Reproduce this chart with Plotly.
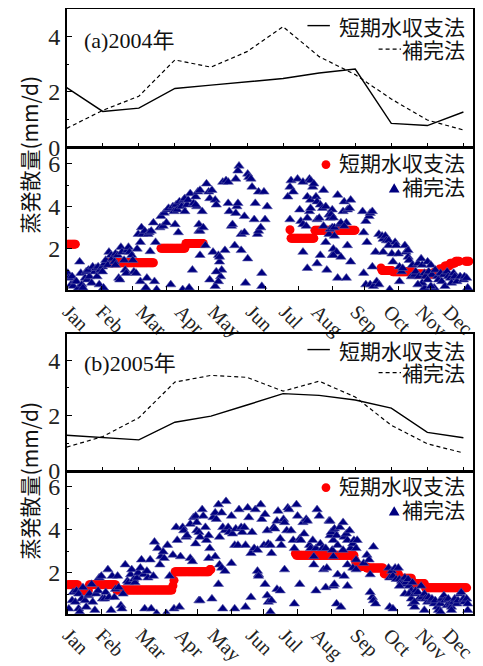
import plotly.graph_objects as go

# ---------------- data ----------------
month_labels = ["Jan", "Feb", "Mar", "Apr", "May", "Jun", "Jul", "Aug", "Sep", "Oct", "Nov", "Dec"]
month_index = [1, 2, 3, 4, 5, 6, 7, 8, 9, 10, 11, 12]

# monthly mean evapotranspiration (mm/d)
wb_2004 = [2.15, 1.29, 1.41, 2.12, 2.24, 2.35, 2.48, 2.68, 2.82, 0.86, 0.78, 1.27]
cp_2004 = [0.68, 1.33, 1.84, 3.15, 2.89, 3.45, 4.35, 3.27, 2.62, 1.74, 0.98, 0.62]
wb_2005 = [1.29, 1.21, 1.12, 1.76, 1.98, 2.38, 2.79, 2.73, 2.56, 2.27, 1.39, 1.20]
cp_2005 = [0.86, 1.24, 1.92, 3.21, 3.45, 3.38, 2.88, 3.24, 2.67, 1.65, 0.98, 0.65]

# month start day-of-year
month_start_2004 = [1, 32, 61, 92, 122, 153, 183, 214, 245, 275, 306, 336, 367]
month_start_2005 = [1, 32, 60, 91, 121, 152, 182, 213, 244, 274, 305, 335, 366]

# daily water-balance values: runs of (first day, last day, value)
wb_daily_2004_runs = [(1, 8, 2.22), (38, 80, 1.35), (87, 109, 2.03), (110, 126, 2.25),
                      (206, 206, 2.9), (207, 228, 2.5), (229, 266, 2.87),
                      (290, 290, 1.1), (291, 300, 0.98), (301, 320, 0.92), (321, 338, 0.82),
                      (339, 343, 0.9), (344, 348, 1.05), (349, 353, 1.2), (354, 358, 1.33),
                      (359, 362, 1.42), (368, 371, 1.42)]
wb_daily_2005_runs = [(1, 10, 1.45), (11, 20, 1.18), (21, 45, 1.45), (46, 97, 1.2),
                      (98, 98, 1.4), (99, 99, 1.65), (100, 131, 2.05), (132, 133, 2.15),
                      (211, 211, 2.9), (212, 265, 2.82), (266, 266, 2.6), (267, 267, 2.45),
                      (268, 276, 2.3), (277, 292, 2.22), (293, 306, 1.95), (307, 318, 1.75),
                      (319, 330, 1.5), (331, 369, 1.3)]

# daily complementary-method values (day, mm/d)
cp_daily_2004 = [
    (1,0.86),(2,0.63),(5,0.7),(4,0.32),(6,0.25),(8,0.47),(9,0.47),(11,0.17),(12,1.39),(13,0.86),
    (14,0.32),(15,0.17),(17,0.63),(18,0.93),(19,0.55),(20,1.01),(21,0.7),(23,0.4),(24,1.16),(26,0.93),
    (27,1.09),(28,0.7),(29,1.16),(30,0.32),(31,1.01),(33,1.16),(33,0.93),(34,0.17),(35,1.31),(36,1.47),
    (38,1.24),(39,1.85),(41,1.7),(42,1.54),(44,1.39),(45,1.77),(45,1.24),(47,1.7),(48,0.63),(49,0.55),
    (50,2.08),(51,1.85),(53,1.47),(54,1.01),(55,0.86),(56,1.93),(57,2.08),(58,1.85),(60,1.7),(61,1.47),
    (62,0.93),(64,0.86),(65,2.0),(66,2.69),(68,0.47),(68,2.31),(69,3.0),(70,2.69),(72,2.84),(73,0.17),
    (74,0.63),(75,2.69),(76,2.77),(77,1.88),(78,2.84),(80,3.23),(81,0.47),(82,2.31),(83,0.09),(86,3.0),
    (87,3.53),(89,3.07),(90,3.69),(92,3.23),(93,3.84),(94,3.91),(96,0.32),(98,3.99),(99,3.76),(100,3.15),
    (101,4.07),(102,3.84),(103,2.77),(104,4.22),(106,3.99),(107,0.09),(108,4.3),(109,4.37),(109,3.76),(111,4.07),
    (112,4.3),(113,0.17),(114,4.6),(116,1.01),(117,4.14),(119,4.45),(120,3.99),(121,4.68),(122,2.84),(123,1.7),
    (123,4.76),(119,4.07),(122,3.15),(125,3.76),(123,2.84),(126,3.0),(128,2.16),(129,5.06),(131,4.68),(132,4.37),
    (134,4.76),(135,1.85),(137,4.3),(138,4.07),(140,1.7),(141,1.39),(143,1.01),(142,0.7),(144,5.14),(146,1.93),
    (147,5.21),(149,5.14),(149,4.14),(150,3.76),(152,3.07),(153,3.15),(155,2.16),(156,5.29),(157,3.99),(156,3.68),
    (158,4.14),(159,5.9),(158,5.67),(161,1.93),(161,2.69),(164,2.77),(164,3.53),(165,0.4),(167,5.52),(168,5.37),
    (170,5.29),(171,4.91),(173,3.38),(174,4.14),(176,2.69),(177,4.68),(177,2.84),(179,3.0),(180,0.86),(182,4.68),
    (183,3.38),(185,3.99),(180,0.24),(132,0.55),(137,0.24),(140,0.47),(138,0.93),(141,1.62),(167,1.54),
    (204,4.45),(206,4.91),(207,5.21),(209,4.68),(213,5.29),(218,5.14),(224,5.29),(225,5.21),(227,4.91),(228,5.06),
    (222,4.45),(225,4.3),(230,4.45),(231,4.22),(234,4.07),(236,3.91),(237,4.76),(239,3.99),(242,3.6),(243,3.45),
    (245,3.84),(206,3.38),(215,3.84),(216,3.3),(218,3.15),(221,3.07),(222,3.45),(224,3.76),(225,3.91),(231,3.38),
    (233,3.45),(237,3.07),(239,2.31),(242,2.69),(243,2.92),(245,3.0),(218,1.85),(222,1.09),(231,1.31),(234,1.7),
    (240,1.01),(245,1.7),(246,2.0),
    (244,3.61),(246,3.46),(247,3.0),(250,4.53),(255,3.76),(256,4.22),(258,3.23),(259,3.84),(261,3.91),(262,4.3),
    (252,3.15),(253,3.23),(256,3.07),(249,1.85),(246,1.7),(247,2.61),(253,1.62),(259,2.16),(262,1.39),(250,0.63),
    (258,0.63),(273,3.76),(274,2.77),(276,3.3),(279,3.53),(280,3.68),(282,3.76),(277,2.31),(285,1.85),(282,1.16),
    (274,0.86),(276,0.32),(280,0.32),(283,0.24),(286,0.47),(288,0.32),(288,2.69),(291,2.61),(292,2.46),(294,2.61),
    (295,2.39),(297,2.39),(292,1.85),(297,2.16),(298,0.09),(300,1.77),(301,1.39),(303,2.31),(304,2.16),(306,1.77),
    (307,1.16),(307,0.47),(309,0.93),(310,1.09),(312,2.16),(313,1.85),(315,1.93),(315,1.62),(316,1.47),(318,0.7),
    (319,1.24),(321,0.78),(322,0.93),(324,1.31),(325,0.7),(327,1.54),(328,1.24),(330,0.86),(331,0.7),(333,1.39),
    (334,0.93),(336,1.24),(337,0.78),(339,0.17),(340,1.01),(342,0.7),(343,0.55),(345,0.86),(346,0.47),(348,0.78),
    (349,0.24),(351,0.93),(352,0.7),(354,0.63),(355,0.4),(357,0.86),(358,0.7),(360,0.47),(363,0.7),(366,0.55),
    (367,0.7),(369,0.63),(370,0.17),(330,0.17),(336,0.24),(328,0.4),(324,0.32),(333,0.55)]

cp_daily_2005 = [
    (2,0.33),(5,0.71),(6,1.09),(8,0.64),(9,1.17),(11,1.02),(11,0.33),(12,0.18),(14,0.79),(15,1.32),
    (17,0.71),(18,0.41),(20,0.94),(21,1.02),(23,1.47),(24,0.64),(26,0.26),(27,1.02),(29,1.17),(30,1.77),
    (32,1.85),(33,0.79),(35,0.79),(36,1.09),(38,2.15),(39,0.86),(41,0.26),(42,1.85),(44,0.86),(45,1.24),
    (47,1.85),(48,1.32),(50,0.48),(51,0.33),(52,1.02),(54,2.38),(56,1.62),(57,1.55),(59,1.92),(60,2.15),
    (62,1.7),(63,1.55),(65,1.77),(66,2.0),(68,2.23),(69,2.61),(71,1.92),(72,0.33),(74,2.08),(75,1.77),
    (77,2.61),(78,0.33),(80,1.85),(81,3.44),(83,0.11),(84,3.14),(86,2.38),(87,2.76),(89,2.98),(90,2.68),
    (92,0.11),(93,3.29),(95,1.85),(98,2.83),(99,0.33),(101,4.12),(102,3.52),(104,0.41),(105,2.76),(107,4.12),
    (108,3.97),(110,3.67),(111,3.74),(114,2.68),(116,2.53),(117,4.58),(119,4.65),(120,3.97),(122,0.71),(119,3.36),
    (114,4.27),
    (120,4.35),(122,3.89),(123,3.67),(125,4.95),(126,4.65),(128,4.12),(129,3.52),(131,3.74),(132,3.14),(135,4.58),
    (137,4.8),(138,4.5),(140,5.18),(141,3.67),(143,4.8),(144,4.12),(146,3.97),(147,5.33),(149,4.12),(150,3.89),
    (152,4.65),(153,3.82),(155,3.29),(156,4.05),(158,3.29),(159,4.95),(161,4.12),(162,3.89),(164,4.12),(165,3.29),
    (167,5.03),(168,4.58),(170,2.91),(171,3.89),(173,3.14),(174,4.95),(176,3.06),(177,1.92),(179,5.18),(180,4.5),
    (182,3.29),(183,4.73),(185,3.97),(186,3.36),(188,3.29),(189,2.91),(191,4.12),(192,4.05),(194,4.42),(195,4.88),
    (197,3.59),(198,3.29),(200,4.5),(201,4.35),(203,3.97),(204,5.03),(205,4.95),(207,3.97),(209,3.52),(210,3.14),
    (212,5.18),(213,4.65),(215,3.59),(216,3.52),(218,4.35),(219,3.82),(221,4.5),(222,4.42),(224,3.29),(225,3.14),
    (227,3.52),(228,2.76),(230,3.14),(231,4.95),(233,4.65),(234,3.36),(236,3.14),(237,2.15),(239,3.14),(240,2.23),
    (242,4.42),(243,3.74),(245,3.06),(246,3.97),(131,2.68),(137,2.76),(141,2.38),(143,2.23),(146,2.08),(152,2.45),
    (123,0.71),(134,0.79),(140,1.47),(144,0.33),(155,0.33),(165,0.41),(170,0.86),(176,2.08),(177,1.85),(183,1.47),
    (185,0.94),(186,0.64),(188,0.18),(189,0.71),(194,1.24),(197,1.17),(201,2.15),(210,0.56),(215,1.47),(228,2.38),
    (230,1.17),(239,1.32),(246,1.39),
    (243,4.42),(244,3.89),(246,3.52),(247,4.05),(249,3.74),(250,3.29),(252,4.12),(255,4.35),(256,3.67),(258,3.82),
    (259,3.52),(261,3.97),(262,3.14),(264,3.36),(265,3.52),(267,3.14),(268,3.52),(255,3.06),(246,2.76),(247,1.47),
    (250,1.92),(256,1.85),(259,1.39),(249,0.56),(253,0.41),(259,2.38),(264,2.23),(267,2.61),(267,2.15),(274,2.45),
    (277,2.83),(279,2.61),(280,1.92),(283,3.21),(282,0.86),(283,0.71),(285,0.56),(280,1.09),(297,2.23),(298,1.77),
    (300,2.08),(301,1.85),(303,2.23),(304,1.7),(306,2.23),(307,1.7),(309,1.62),(310,1.47),(312,1.77),(313,1.55),
    (315,1.7),(316,1.39),(318,1.17),(319,1.55),(298,0.41),(301,0.33),(307,1.39),(312,1.02),(316,1.02),(318,0.79),
    (319,0.56),(321,0.41),(321,1.02),(322,1.17),(324,1.09),(325,0.79),(327,1.39),(328,0.86),(330,1.02),(331,0.79),
    (333,0.64),(334,0.86),(336,0.71),(337,0.79),(339,0.56),(340,0.71),(342,0.41),(343,0.26),(345,0.56),(346,0.79),
    (348,0.94),(349,0.71),(351,0.48),(352,0.79),(354,0.56),(355,0.41),(357,0.64),(358,0.79),(360,0.56),(361,0.71),
    (363,1.02),(364,1.09),(366,0.79),(367,0.64),(369,0.79),(370,0.26),(370,0.56),(321,0.64),(330,0.26),(345,0.18),
    (355,0.26)]

legend_wb = "短期水収支法"
legend_cp = "補完法"
panel_titles = ["(a)2004年", "(b)2005年"]
y_title = "蒸発散量(mm/d)"

# ---------------- helpers ----------------
# page body has an 8px default margin: the figure is sized to fill the rest of the window
OFF = 8
W, H = 483 - OFF, 666 - OFF
def PX(x): return (x - OFF) / W
def PY(y): return 1 - (y - OFF) / H

def expand_runs(runs):
    d, v = [], []
    for a, b, val in runs:
        for day in range(a, b + 1):
            d.append(day)
            v.append(val)
    return d, v

RED = "#ff0000"
NAVY = "#000080"
SERIF = "Liberation Serif, Times New Roman, serif"
CJK = "Noto Sans CJK JP, sans-serif"

fig = go.Figure()

# panel 1 / 3 : monthly lines
for (wb, cp, xa, ya) in [(wb_2004, cp_2004, "x", "y"), (wb_2005, cp_2005, "x3", "y3")]:
    fig.add_trace(go.Scatter(x=month_index, y=wb, mode="lines", xaxis=xa, yaxis=ya,
                             line=dict(color="black", width=1.4), showlegend=False))
    fig.add_trace(go.Scatter(x=month_index, y=cp, mode="lines", xaxis=xa, yaxis=ya,
                             line=dict(color="black", width=1.2, dash="4px,3px"), showlegend=False))

# panel 2 / 4 : daily points
for (runs, pts, xa, ya) in [(wb_daily_2004_runs, cp_daily_2004, "x2", "y2"),
                            (wb_daily_2005_runs, cp_daily_2005, "x4", "y4")]:
    rd, rv = expand_runs(runs)
    fig.add_trace(go.Scatter(x=rd, y=rv, mode="markers", xaxis=xa, yaxis=ya,
                             marker=dict(color=RED, size=9, line=dict(width=0)), showlegend=False))
    fig.add_trace(go.Scatter(x=[p[0] for p in pts], y=[p[1] for p in pts], mode="markers",
                             xaxis=xa, yaxis=ya,
                             marker=dict(color=NAVY, size=9, symbol="triangle-up",
                                         line=dict(width=0.6, color="#5a5aa8")),
                             showlegend=False))

xdom = [PX(60), PX(477)]
axis_common = dict(showline=True, mirror=True, linecolor="black", linewidth=1.5,
                   showgrid=False, zeroline=False)

# vertical pixel extents of panels
p1 = (9.3, 150.2)
p2 = (151.5, 296.5)
p3 = (341.5, 481.0)
p4 = (482.5, 627.0)

# horizontal pixel positions of the rotated month labels (layout only)
label_px = [62, 96, 137, 177, 211, 250, 284, 317, 357, 391, 424, 452]
label_days = [(p - 60) / 1.112 for p in label_px]

def line_xaxis(anchor):
    return dict(domain=xdom, anchor=anchor, range=[1, 12.27], ticks="inside", ticklen=4,
                tickwidth=1, tickcolor="black", tickvals=month_index, showticklabels=False,
                **axis_common)

def scat_xaxis(anchor, starts):
    return dict(domain=xdom, anchor=anchor, range=[0, 375], ticks="", tickvals=label_days,
                ticktext=month_labels, tickangle=45, ticklabeloverflow="allow",
                tickfont=dict(family=SERIF, size=20, color="#222"),
                minor=dict(tickvals=starts, ticks="inside", ticklen=5, tickwidth=1, tickcolor="black"),
                **axis_common)

def yaxis(anchor, pix, rng, tv):
    return dict(domain=[PY(pix[1]), PY(pix[0])], anchor=anchor, range=rng, ticks="inside",
                ticklen=6, tickwidth=1, tickcolor="black", tickvals=tv,
                tickfont=dict(family=SERIF, size=24, color="#222"),
                minor=dict(tickvals=[1, 3, 5], ticks="inside", ticklen=3, tickwidth=1, tickcolor="black"),
                **axis_common)

fig.update_layout(
    width=W, height=H, margin=dict(l=0, r=0, t=0, b=0),
    paper_bgcolor="white", plot_bgcolor="white", showlegend=False,
    xaxis=line_xaxis("y"),
    yaxis=yaxis("x", p1, [0, 4.98], [0, 2, 4]),
    xaxis2=scat_xaxis("y2", month_start_2004),
    yaxis2=yaxis("x2", p2, [0.05, 6.72], [2, 4, 6]),
    xaxis3=line_xaxis("y3"),
    yaxis3=yaxis("x3", p3, [0, 4.93], [0, 2, 4]),
    xaxis4=scat_xaxis("y4", month_start_2005),
    yaxis4=yaxis("x4", p4, [0.09, 6.68], [2, 4, 6]),
)

ann = []
shapes = []
# panel titles
for t, yc in zip(panel_titles, [41, 371]):
    ann.append(dict(x=PX(76), y=PY(yc), xref="paper", yref="paper", text=t, showarrow=False,
                    xanchor="left", yanchor="middle",
                    font=dict(family="Liberation Serif, Noto Sans CJK JP", size=22, color="#111")))
# y titles
for yc in [158, 491]:
    ann.append(dict(x=PX(21), y=PY(yc), xref="paper", yref="paper", text=y_title, showarrow=False,
                    textangle=-90, xanchor="center", yanchor="middle",
                    font=dict(family=CJK, size=21, color="#111")))

# line-panel legends
for y1, y2 in [(26.5, 49.5), (357.5, 380.0)]:
    ann.append(dict(x=PX(471), y=PY(y1), xref="paper", yref="paper", text=legend_wb, showarrow=False,
                    xanchor="right", yanchor="middle", font=dict(family=CJK, size=21, color="#111")))
    ann.append(dict(x=PX(471), y=PY(y2), xref="paper", yref="paper", text=legend_cp, showarrow=False,
                    xanchor="right", yanchor="middle", font=dict(family=CJK, size=21, color="#111")))
    shapes.append(dict(type="line", xref="paper", yref="paper", x0=PX(307), x1=PX(330),
                       y0=PY(y1 - 0.5), y1=PY(y1 - 0.5), line=dict(color="black", width=1.4)))
    shapes.append(dict(type="line", xref="paper", yref="paper", x0=PX(380), x1=PX(403),
                       y0=PY(y2 + 0.5), y1=PY(y2 + 0.5), line=dict(color="black", width=1.2, dash="4px,3px")))

# scatter-panel legends
for y1, y2 in [(165, 189.5), (495, 519.5)]:
    ann.append(dict(x=PX(471), y=PY(y1), xref="paper", yref="paper", text=legend_wb, showarrow=False,
                    xanchor="right", yanchor="middle", font=dict(family=CJK, size=21, color="#111")))
    ann.append(dict(x=PX(471), y=PY(y2), xref="paper", yref="paper", text=legend_cp, showarrow=False,
                    xanchor="right", yanchor="middle", font=dict(family=CJK, size=21, color="#111")))
    cx, cy, r = 326, y1 + 3, 4.5
    shapes.append(dict(type="circle", xref="paper", yref="paper", x0=PX(cx - r), x1=PX(cx + r),
                       y0=PY(cy + r), y1=PY(cy - r), fillcolor=RED, line=dict(width=0)))
    tx, ty = 396, y2 + 3
    shapes.append(dict(type="path", xref="paper", yref="paper",
                       path=f"M {PX(tx)},{PY(ty - 5.5)} L {PX(tx - 5.5)},{PY(ty + 4)} L {PX(tx + 5.5)},{PY(ty + 4)} Z",
                       fillcolor=NAVY, line=dict(width=0)))

fig.update_layout(annotations=ann, shapes=shapes)
fig.write_html("out.html")
